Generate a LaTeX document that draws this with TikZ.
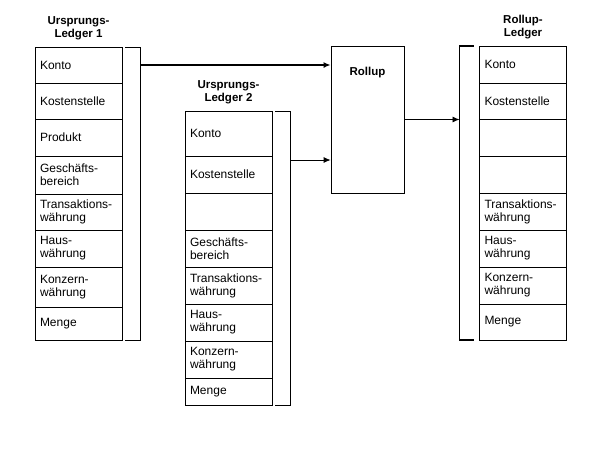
\documentclass[tikz,border=0pt]{standalone}
\usepackage{fontspec}
\setmainfont{Liberation Sans}
\usetikzlibrary{positioning,arrows.meta}

\begin{document}
\begin{tikzpicture}[x=1pt, y=-1pt,
                    every node/.style={font=\fontsize{12}{13}\selectfont},
                    cell/.style={draw, line width=0.8pt, outer sep=0pt,
                                 inner xsep=5pt, inner ysep=0pt,
                                 text width=77pt, align=left},
                    hdr/.style={font=\fontsize{11.5}{13}\selectfont\bfseries, align=center},
                    bracket/.style={line width=0.8pt},
                    flow/.style={-{Latex[length=7pt,width=6pt]}, line width=0.8pt}]

                    \useasboundingbox (0,0) rectangle (598,448);

                    % Ursprungs-Ledger 1
                    \coordinate (l1r0) at (78.5,47);
                    \foreach \txt/\h [count=\i, remember=\i as \j (initially 0)] in
                        {Konto/36, Kostenstelle/36, Produkt/37, {Geschäfts-\\bereich}/38,
                         {Transaktions-\\währung}/36, {Haus-\\währung}/37,
                         {Konzern-\\währung}/40, Menge/33}
                        \node[cell, minimum height=\h pt, below=0pt of l1r\j] (l1r\i) {\txt};
                    \node[hdr, above=4pt of l1r1] (h1) {Ursprungs-\\Ledger 1};

                    % Ursprungs-Ledger 2
                    \coordinate (l2r0) at (228.5,111);
                    \foreach \txt/\h [count=\i, remember=\i as \j (initially 0)] in
                        {Konto/45, Kostenstelle/37, {}/37, {Geschäfts-\\bereich}/37,
                         {Transaktions-\\währung}/37, {Haus-\\währung}/37,
                         {Konzern-\\währung}/37, Menge/27}
                        \node[cell, minimum height=\h pt, below=0pt of l2r\j] (l2r\i) {\txt};
                    \node[hdr, above=4pt of l2r1] (h2) {Ursprungs-\\Ledger 2};

                    % Rollup-Ledger
                    \coordinate (rl0) at (523,46);
                    \foreach \txt/\h [count=\i, remember=\i as \j (initially 0)] in
                        {Konto/37, Kostenstelle/36, {}/37, {}/37,
                         {Transaktions-\\währung}/37, {Haus-\\währung}/37,
                         {Konzern-\\währung}/37, Menge/36}
                        \node[cell, minimum height=\h pt, below=0pt of rl\j] (rl\i) {\txt};
                    \node[hdr, above=4pt of rl1] (h3) {Rollup-\\Ledger};

                    \node[draw, line width=0.8pt, minimum width=73pt, minimum height=147pt,
                          label={[hdr, anchor=north, label distance=-18pt]90:Rollup}]
                          (rollup) at (367.5,119.5) {};

                    % brackets
                    \draw[bracket] ([xshift=3pt]l1r1.north east) -- ([xshift=18pt]l1r1.north east)
                        -- ([xshift=18pt]l1r8.south east) -- ([xshift=3pt]l1r8.south east);
                    \draw[bracket] ([xshift=3pt]l2r1.north east) -- ([xshift=18pt]l2r1.north east)
                        -- ([xshift=18pt]l2r8.south east) -- ([xshift=3pt]l2r8.south east);
                    \draw[bracket, line width=1.6pt] ([xshift=-6pt]rl1.north west)
                        -- ([xshift=-20pt]rl1.north west) coordinate (b3)
                        -- ([xshift=-20pt]rl8.south west) -- ([xshift=-6pt]rl8.south west);

                    % connectors
                    \coordinate (b1) at ([xshift=18pt]l1r1.east);
                    \coordinate (b2) at ([xshift=18pt,yshift=-4pt]l2r2.north east);
                    \draw[flow, line width=1.6pt] (b1) -- (b1 -| rollup.west);
                    \draw[flow] (b2) -- (b2 -| rollup.west);
                    \draw[flow] (rollup.east) -- (rollup.east -| b3);
                \end{tikzpicture}
\end{document}
